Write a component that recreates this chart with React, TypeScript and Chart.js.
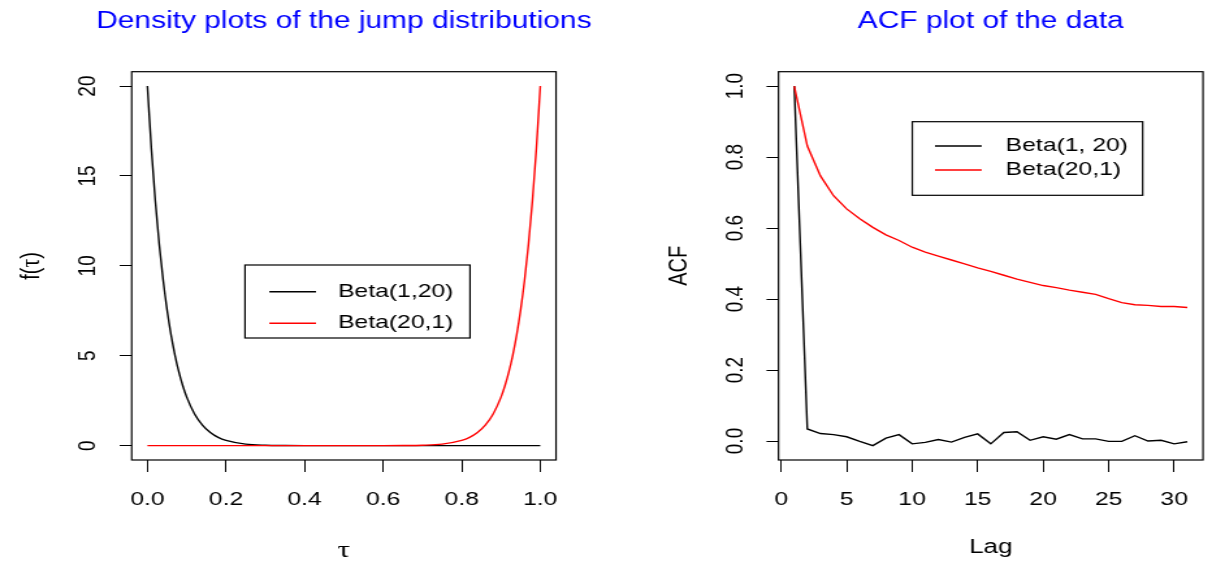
import React, { useEffect, useRef } from 'react';
import { Chart, registerables } from 'chart.js';

Chart.register(...registerables);

// ---------- data ----------
const densityTitle = 'Density plots of the jump distributions';
const acfTitle = 'ACF plot of the data';

const legendLeft = ['Beta(1,20)', 'Beta(20,1)'];
const legendRight = ['Beta(1, 20)', 'Beta(20,1)'];

// Beta(1,20) density (black)
const tauBlack = [0, 0.01, 0.02, 0.03, 0.04, 0.05, 0.06, 0.07, 0.08, 0.09, 0.1, 0.12, 0.14, 0.16, 0.18, 0.2, 0.25, 0.3, 0.35, 0.4, 0.5, 0.6, 0.7, 0.8, 0.9, 1.0];
const densBlack = [20, 16.52, 13.62, 11.21, 9.21, 7.55, 6.17, 5.04, 4.1, 3.33, 2.7, 1.76, 1.14, 0.73, 0.46, 0.29, 0.085, 0.023, 0.006, 0.001, 0, 0, 0, 0, 0, 0];

// Beta(20,1) density (red)
const tauRed = [0, 0.1, 0.2, 0.3, 0.4, 0.5, 0.6, 0.65, 0.7, 0.75, 0.8, 0.82, 0.84, 0.86, 0.88, 0.9, 0.91, 0.92, 0.93, 0.94, 0.95, 0.96, 0.97, 0.98, 0.99, 1.0];
const densRed = [0, 0, 0, 0, 0, 0, 0.001, 0.006, 0.023, 0.085, 0.29, 0.46, 0.73, 1.14, 1.76, 2.7, 3.33, 4.1, 5.04, 6.17, 7.55, 9.21, 11.21, 13.62, 16.52, 20];

// ACF
const lags = [1, 2, 3, 4, 5, 6, 7, 8, 9, 10, 11, 12, 13, 14, 15, 16, 17, 18, 19, 20, 21, 22, 23, 24, 25, 26, 27, 28, 29, 30, 31];
const acfBlack = [1.0, 0.034, 0.021, 0.018, 0.012, -0.001, -0.013, 0.008, 0.018, -0.008, -0.004, 0.004, -0.003, 0.01, 0.02, -0.008, 0.024, 0.026, 0.002, 0.012, 0.005, 0.018, 0.006, 0.006, -0.001, -0.001, 0.015, 0.0, 0.002, -0.008, -0.002];
const acfRed = [1.0, 0.831, 0.747, 0.691, 0.654, 0.626, 0.602, 0.581, 0.565, 0.546, 0.532, 0.521, 0.51, 0.499, 0.488, 0.478, 0.467, 0.456, 0.447, 0.438, 0.432, 0.425, 0.419, 0.413, 0.401, 0.39, 0.384, 0.382, 0.379, 0.379, 0.376];

// ticks
const leftXTicks = [0, 0.2, 0.4, 0.6, 0.8, 1.0];
const leftXLabels = ['0.0', '0.2', '0.4', '0.6', '0.8', '1.0'];
const leftYTicks = [0, 5, 10, 15, 20];
const leftYLabels = ['0', '5', '10', '15', '20'];
const rightXTicks = [0, 5, 10, 15, 20, 25, 30];
const rightXLabels = ['0', '5', '10', '15', '20', '25', '30'];
const rightYTicks = [0, 0.2, 0.4, 0.6, 0.8, 1.0];
const rightYLabels = ['0.0', '0.2', '0.4', '0.6', '0.8', '1.0'];

// ---------- layout ----------
const H = 568;
const W = 466; // internal canvas width of each panel
const PANEL_W = 606; // on-screen width of each panel
const SX = PANEL_W / W; // horizontal stretch like the reference
const SANS = '"Liberation Sans", Arial, Helvetica, sans-serif';
const SERIF = '"Liberation Serif", "DejaVu Serif", serif';

type Seg = { t: string; serif?: boolean; size?: number };

type Spec = {
  pageLeft: number;
  area: { left: number; right: number; top: number; bottom: number };
  xRange: [number, number];
  yRange: [number, number];
  xTicks: number[];
  xLabels: string[];
  yTicks: number[];
  yLabels: string[];
  datasets: { xs: number[]; ys: number[]; color: string; order: number }[];
  title: string;
  xTitle: Seg[];
  xTitleBase: number;
  yTitle: Seg[];
  yTitleX: number;
  yLabelX: number;
  legend: { box: [number, number, number, number]; lineX: [number, number]; lineY: number[]; textX: number; labels: string[]; colors: string[] };
};

const ix = (p: number) => p / SX; // page px (panel-relative) -> internal px

const drawSegs = (ctx: CanvasRenderingContext2D, segs: Seg[], size: number) => {
  let total = 0;
  const widths = segs.map((s) => {
    ctx.font = `${s.size || size}px ${s.serif ? SERIF : SANS}`;
    const w = ctx.measureText(s.t).width;
    total += w;
    return w;
  });
  let x = -total / 2;
  ctx.textAlign = 'left';
  segs.forEach((s, i) => {
    ctx.font = `${s.size || size}px ${s.serif ? SERIF : SANS}`;
    ctx.fillText(s.t, x, 0);
    x += widths[i];
  });
};

function makeOverlay(spec: Spec) {
  return {
    id: 'overlay',
    afterDraw(chart: any) {
      const { ctx, chartArea: a, scales } = chart;
      const xs = scales.x;
      const ys = scales.y;
      ctx.save();
      // box
      ctx.strokeStyle = '#000';
      ctx.lineWidth = 1.2;
      ctx.strokeRect(a.left, a.top, a.right - a.left, a.bottom - a.top);

      ctx.fillStyle = '#000';
      // x tick labels
      ctx.font = `19px ${SANS}`;
      ctx.textAlign = 'center';
      ctx.textBaseline = 'alphabetic';
      spec.xTicks.forEach((v, i) => ctx.fillText(spec.xLabels[i], xs.getPixelForValue(v), 505));
      // y tick labels (rotated)
      spec.yTicks.forEach((v, i) => {
        ctx.save();
        ctx.translate(ix(spec.yLabelX) + 0.36 * 19, ys.getPixelForValue(v));
        ctx.rotate(-Math.PI / 2);
        ctx.textAlign = 'center';
        ctx.fillText(spec.yLabels[i], 0, 0);
        ctx.restore();
      });
      // title
      ctx.fillStyle = '#0000FF';
      ctx.font = `23px ${SANS}`;
      ctx.textAlign = 'center';
      ctx.fillText(spec.title, (a.left + a.right) / 2, 27.5);
      // x title
      ctx.fillStyle = '#000';
      ctx.save();
      ctx.translate((a.left + a.right) / 2, spec.xTitleBase);
      drawSegs(ctx, spec.xTitle, 20);
      ctx.restore();
      // y title
      ctx.save();
      ctx.translate(ix(spec.yTitleX) + 0.36 * 20, (a.top + a.bottom) / 2);
      ctx.rotate(-Math.PI / 2);
      drawSegs(ctx, spec.yTitle, 20);
      ctx.restore();
      // legend
      const L = spec.legend;
      ctx.lineWidth = 1.2;
      ctx.strokeStyle = '#000';
      ctx.fillStyle = '#fff';
      ctx.fillRect(ix(L.box[0]), L.box[1], ix(L.box[2]) - ix(L.box[0]), L.box[3] - L.box[1]);
      ctx.strokeRect(ix(L.box[0]), L.box[1], ix(L.box[2]) - ix(L.box[0]), L.box[3] - L.box[1]);
      ctx.font = `19px ${SANS}`;
      ctx.textAlign = 'left';
      L.labels.forEach((lab, i) => {
        ctx.strokeStyle = L.colors[i];
        ctx.lineWidth = 1.4;
        ctx.beginPath();
        ctx.moveTo(ix(L.lineX[0]), L.lineY[i]);
        ctx.lineTo(ix(L.lineX[1]), L.lineY[i]);
        ctx.stroke();
        ctx.fillStyle = '#000';
        ctx.fillText(lab, ix(L.textX), L.lineY[i] + 5);
      });
      ctx.restore();
    },
  };
}

const leftSpec: Spec = {
  pageLeft: 0,
  area: { left: 131.7, right: 556, top: 71.7, bottom: 460 },
  xRange: [-0.04, 1.04],
  yRange: [-0.8, 20.8],
  xTicks: leftXTicks,
  xLabels: leftXLabels,
  yTicks: leftYTicks,
  yLabels: leftYLabels,
  datasets: [
    { xs: tauBlack, ys: densBlack, color: '#000000', order: 1 },
    { xs: tauRed, ys: densRed, color: '#FF0000', order: 0 },
  ],
  title: densityTitle,
  xTitle: [{ t: 'τ', serif: true, size: 24 }],
  xTitleBase: 557,
  yTitle: [{ t: 'f(' }, { t: 'τ', serif: true, size: 22 }, { t: ')' }],
  yTitleX: 29,
  yLabelX: 86,
  legend: { box: [245, 265, 470, 338], lineX: [269.3, 316], lineY: [291.7, 323.3], textX: 338, labels: legendLeft, colors: ['#000000', '#FF0000'] },
};

const rightSpec: Spec = {
  pageLeft: 606,
  area: { left: 172.5, right: 597, top: 71.7, bottom: 460 },
  xRange: [-0.2, 32.2],
  yRange: [-0.0535, 1.0405],
  xTicks: rightXTicks,
  xLabels: rightXLabels,
  yTicks: rightYTicks,
  yLabels: rightYLabels,
  datasets: [
    { xs: lags, ys: acfBlack, color: '#000000', order: 1 },
    { xs: lags, ys: acfRed, color: '#FF0000', order: 0 },
  ],
  title: acfTitle,
  xTitle: [{ t: 'Lag' }],
  xTitleBase: 553,
  yTitle: [{ t: 'ACF' }],
  yTitleX: 71.7,
  yLabelX: 127.3,
  legend: { box: [306.3, 121.7, 536.7, 195.3], lineX: [329, 375.7], lineY: [146, 170], textX: 399.7, labels: legendRight, colors: ['#000000', '#FF0000'] },
};

function Panel({ spec, smooth }: { spec: Spec; smooth: boolean }) {
  const ref = useRef<HTMLCanvasElement>(null);
  useEffect(() => {
    const a = spec.area;
    const chart = new Chart(ref.current as HTMLCanvasElement, {
      type: 'line',
      data: {
        datasets: spec.datasets.map((d) => ({
          data: d.xs.map((x, i) => ({ x, y: d.ys[i] })),
          borderColor: d.color,
          backgroundColor: d.color,
          borderWidth: 1.4,
          pointRadius: 0,
          fill: false,
          order: d.order,
          tension: smooth ? 0.4 : 0,
          cubicInterpolationMode: smooth ? 'monotone' : 'default',
        })),
      } as any,
      options: {
        animation: false,
        responsive: false,
        devicePixelRatio: 1,
        events: [],
        layout: { padding: { left: 0, top: a.top, right: W - ix(a.right), bottom: 0 } },
        plugins: { legend: { display: false }, tooltip: { enabled: false }, title: { display: false } },
        scales: {
          x: {
            type: 'linear',
            min: spec.xRange[0],
            max: spec.xRange[1],
            border: { display: false },
            grid: { drawOnChartArea: false, drawTicks: true, tickLength: 12, color: '#000', tickColor: '#000', tickWidth: 1 },
            ticks: { display: false },
            afterBuildTicks: (s: any) => {
              s.ticks = spec.xTicks.map((v) => ({ value: v }));
            },
            afterFit: (s: any) => {
              s.height = H - a.bottom;
            },
          },
          y: {
            type: 'linear',
            min: spec.yRange[0],
            max: spec.yRange[1],
            border: { display: false },
            grid: { drawOnChartArea: false, drawTicks: true, tickLength: 12 / SX, color: '#000', tickColor: '#000', tickWidth: 1 },
            ticks: { display: false },
            afterBuildTicks: (s: any) => {
              s.ticks = spec.yTicks.map((v) => ({ value: v }));
            },
            afterFit: (s: any) => {
              s.width = ix(a.left);
            },
          },
        },
      } as any,
      plugins: [makeOverlay(spec)],
    });
    return () => chart.destroy();
  }, []);
  return (
    <canvas
      ref={ref}
      width={W}
      height={H}
      style={{
        position: 'absolute',
        left: spec.pageLeft,
        top: 0,
        width: W,
        height: H,
        transform: `scaleX(${SX})`,
        transformOrigin: '0 0',
      }}
    />
  );
}

export default function App() {
  return (
    <div style={{ position: 'fixed', left: 0, top: 0, width: 1212, height: 568, background: '#fff', overflow: 'hidden' }}>
      <Panel spec={leftSpec} smooth={true} />
      <Panel spec={rightSpec} smooth={false} />
    </div>
  );
}
